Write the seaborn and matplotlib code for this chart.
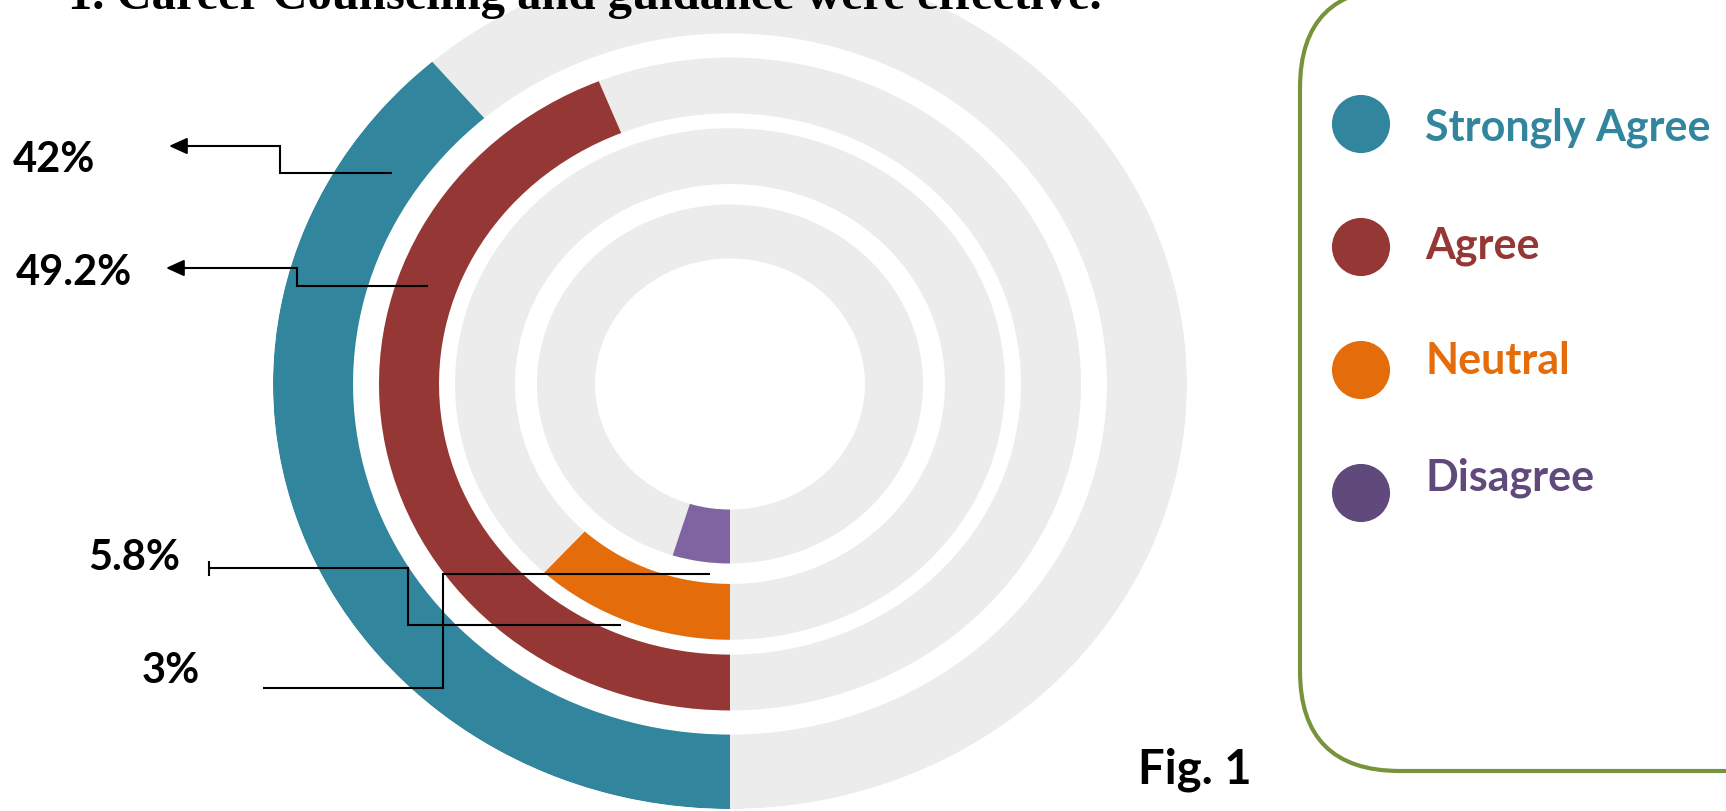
import numpy as np
import matplotlib
matplotlib.use("Agg")
import matplotlib.pyplot as plt
import seaborn as sns
from matplotlib.patches import FancyBboxPatch

# ---------------- data ----------------
categories = ["Strongly Agree", "Agree", "Neutral", "Disagree"]
arc_share = [38.7, 43.9, 11.8, 4.8]          # share of full circle (%) read from the rings
value_labels = ["42%", "49.2%", "5.8%", "3%"]
bar_colors = ["#31859C", "#953735", "#E46C0A", "#8064A2"]
legend_colors = ["#31859C", "#953735", "#E46C0A", "#604A7B"]
title_text = "1. Career Counseling and guidance were effective."
fig_label = "Fig. 1"

# ---------------- style ----------------
sns.set_theme(style="white")
plt.rcParams['font.family'] = ['Lato', 'DejaVu Sans']

W, H = 1726, 811
fig = plt.figure(figsize=(W / 100, H / 100), dpi=100)
fig.patch.set_facecolor('white')

# ring geometry (pixels, horizontal radius)
ring_inner = [377, 291, 215, 135]
ring_outer = [457, 351, 275, 193]
R = 457
cx, cy = 730, 384
ry_ratio = 0.93
track_color = "#ECECEC"

ax = fig.add_axes([(cx - R) / W, (H - cy - R * ry_ratio) / H, 2 * R / W, 2 * R * ry_ratio / H],
                  projection='polar')
ax.set_aspect('auto')
ax.set_theta_zero_location('S')
ax.set_theta_direction(-1)

full = 2 * np.pi
for i in range(len(categories)):
    thick = ring_outer[i] - ring_inner[i]
    ax.bar(0, thick, width=full, bottom=ring_inner[i], align='edge',
           color=track_color, linewidth=0)
    ax.bar(0, thick, width=arc_share[i] / 100 * full, bottom=ring_inner[i], align='edge',
           color=bar_colors[i], linewidth=0)
ax.set_rlim(0, R)
ax.axis('off')

# ---------------- overlay (pixel coords) ----------------
ov = fig.add_axes([0, 0, 1, 1], facecolor='none')

lk = dict(color='black', lw=1.5, solid_joinstyle='miter', solid_capstyle='butt')
arrow_kw = dict(arrowstyle='-|>,head_length=1.1,head_width=0.5', color='black', lw=1.5,
                shrinkA=0, shrinkB=0, mutation_scale=10)

# 42% leader
ov.plot([392, 280, 280, 186], [173, 173, 146, 146], **lk)
ov.annotate('', xy=(169, 146), xytext=(190, 146), arrowprops=arrow_kw)
# 49.2% leader
ov.plot([428, 297, 297, 183], [286, 286, 268, 268], **lk)
ov.annotate('', xy=(166, 268), xytext=(187, 268), arrowprops=arrow_kw)
# 5.8% leader
ov.plot([621, 408, 408, 209], [625, 625, 568, 568], **lk)
ov.plot([209, 209], [561, 576], **lk)
# 3% leader
ov.plot([710, 443, 443, 263], [574, 574, 688, 688], **lk)

label_pos = [(13, 172), (16, 285), (88, 570), (142, 683)]
for (x, y), t in zip(label_pos, value_labels):
    ov.text(x, y, t, fontsize=30, fontweight='bold', color='black', ha='left', va='baseline')

# legend box
box = FancyBboxPatch((1300, -12), 600, 783, boxstyle="round,pad=0,rounding_size=100",
                     fc='white', ec='#77933C', lw=3, zorder=1)
ov.add_patch(box)
leg_y = [124, 247, 370, 493]
leg_base = [140, 258, 374, 491]
sns.scatterplot(x=[1361] * 4, y=leg_y, hue=categories, palette=legend_colors, s=1750,
                linewidth=0, legend=False, ax=ov, zorder=5)
for c, col, yb in zip(categories, legend_colors, leg_base):
    ov.text(1425, yb, c, fontsize=31, fontweight='bold', color=col, ha='left', va='baseline', zorder=6)

ov.text(1138, 783, fig_label, fontsize=34, fontweight='bold', color='black', ha='left', va='baseline')

ov.text(68, 9, title_text, fontsize=35, fontweight='bold', color='black', ha='left', va='baseline',
        family=['Liberation Serif', 'DejaVu Serif'])

ov.set_xlim(0, W)
ov.set_ylim(H, 0)
ov.axis('off')

fig.savefig("out.png", dpi=100, facecolor='white')
